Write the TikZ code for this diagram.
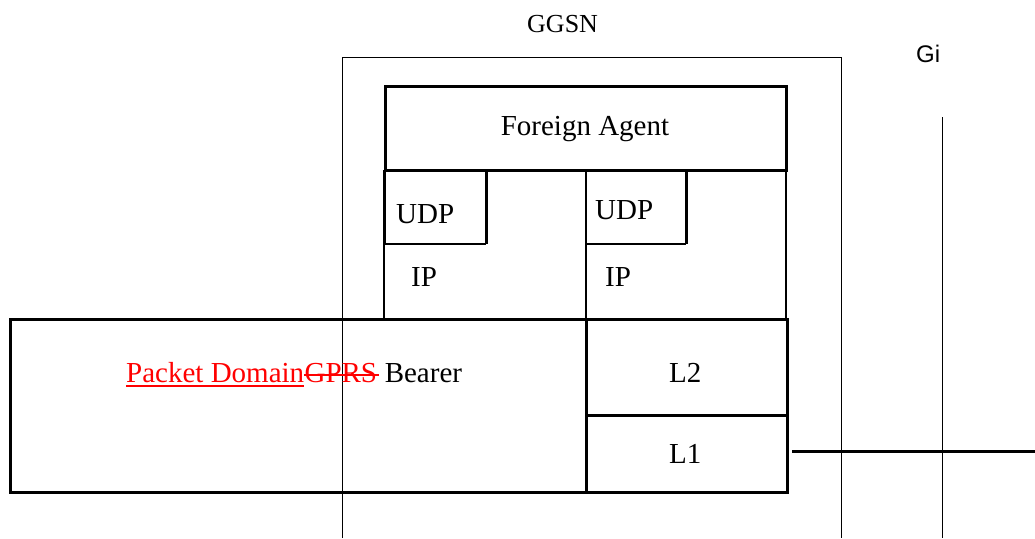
\documentclass[tikz,border=0pt]{standalone}
\usepackage{fontspec}
\setmainfont{Liberation Serif}
\newfontfamily\gisans{Liberation Sans}
\usetikzlibrary{calc}
\begin{document}
\begin{tikzpicture}[x=1pt,y=-1pt,
  thickbox/.style={draw, line width=3pt, inner sep=0pt, outer sep=0pt, anchor=north west},
  thinline/.style={line width=0.8pt},
  midline/.style={line width=2.2pt},
  heavyline/.style={line width=3pt},
  txt/.style={inner sep=0pt, font=\fontsize{29}{34}\selectfont},
  markline/.style={red, line width=1.4pt}]
\useasboundingbox (0,0) rectangle (1035,538);
% GGSN outer frame (open at bottom)
\coordinate (gbl) at (342,538);
\coordinate (gtl) at (342,57);
\coordinate (gtr) at (841,57);
\coordinate (gbr) at (841,538);
\draw[thinline] (gbl) -- (gtl) -- (gtr) -- (gbr);
% Gi reference line
\coordinate (gitop) at (942,117);
\coordinate (gibot) at (942,538);
\draw[thinline] (gitop) -- (gibot);
% Foreign agent
\node[thickbox, minimum width=401pt, minimum height=84pt] (fa) at (385,86) {};
% UDP boxes
\coordinate (u1tl) at (384,170);
\coordinate (u1bl) at (384,244);
\coordinate (u1br) at (486,244);
\coordinate (u1tr) at (486,170);
\draw[heavyline] (u1tl) -- (u1bl);
\draw[midline] (u1bl) -- (u1br);
\draw[heavyline] (u1br) -- (u1tr);
\coordinate (u2tl) at (586,170);
\coordinate (u2bl) at (586,244);
\coordinate (u2br) at (686,244);
\coordinate (u2tr) at (686,170);
\draw[midline] (u2bl) -- (u2br);
\draw[heavyline] (u2br) -- (u2tr);
% IP side lines
\coordinate (ip1b) at (384,319);
\draw[line width=1.2pt] (u1bl) -- (ip1b);
\coordinate (ip2b) at (586,319);
\draw[midline] (u2tl) -- (ip2b);
\coordinate (ip3t) at (786,170);
\coordinate (ip3b) at (786,319);
\draw[midline] (ip3t) -- (ip3b);
% Bearer, L2, L1
\node[thickbox, minimum width=576pt, minimum height=173pt] (bearer) at (10,319) {};
\node[thickbox, minimum width=201pt, minimum height=96pt] (l2) at (586,319) {};
\node[thickbox, minimum width=201pt, minimum height=77pt] (l1) at (586,415) {};
% Gi line
\coordinate (lineL) at (792,451);
\coordinate (lineR) at (1035,451);
\draw[heavyline] (lineL) -- (lineR);
% texts
\node[txt, anchor=base] (tfa) at (585,135) {Foreign Agent};
\node[txt, anchor=base west] (tudp1) at (396,223) {UDP};
\node[txt, anchor=base west] (tudp2) at (595,219) {UDP};
\node[txt, anchor=base west] (tip1) at (411,286) {IP};
\node[txt, anchor=base west] (tip2) at (605,286) {IP};
\node[txt, anchor=base west] (tl2) at (669,382) {L2};
\node[txt, anchor=base west] (tl1) at (669,463) {L1};
\node[inner sep=0pt, anchor=base west, font=\fontsize{26}{30}\selectfont] (tggsn) at (527,32) {GGSN};
\node[inner sep=0pt, anchor=base west, font=\gisans\fontsize{24}{28}\selectfont] (tgi) at (916,62) {Gi};
\node[txt, anchor=base west, text=red] (tpd) at (126,382) {Packet Domain};
\node[txt, anchor=base west, text=red] (tgprs) at (tpd.base east) {GPRS};
\node[txt, anchor=base west] (tbr) at (tgprs.base east) {\ Bearer};
\draw[markline] ($(tpd.base west)+(0,4)$) -- ($(tpd.base east)+(0,4)$);
\draw[markline] ($(tgprs.base west)+(0,-7)$) -- ($(tgprs.base east)+(2,-7)$);
\end{tikzpicture}
\end{document}
